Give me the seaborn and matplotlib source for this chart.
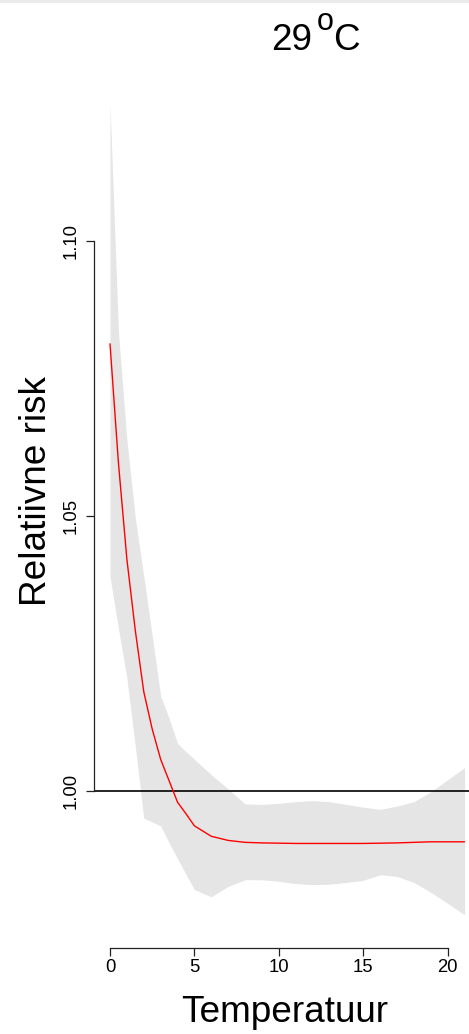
import matplotlib
matplotlib.use("Agg")
import matplotlib.pyplot as plt
from matplotlib.patches import Rectangle
import seaborn as sns

# Exposure-response curve for the 29 °C threshold
temperature = [0, 0.5, 1, 1.5, 2, 2.5, 3, 3.5, 4, 4.5, 5, 6, 7, 8, 9, 10,
               11, 12, 13, 14, 15, 16, 17, 18, 19, 20, 21]
relative_risk = [1.0813, 1.0596, 1.0421, 1.0291, 1.0180, 1.0112, 1.0057,
                 1.0018, 0.9979, 0.9958, 0.9936, 0.9917, 0.99095, 0.9906,
                 0.9905, 0.99045, 0.9904, 0.9904, 0.9904, 0.9904, 0.9904,
                 0.99045, 0.9905, 0.9906, 0.9907, 0.9907, 0.9907]
ci_upper = [1.1250, 1.0835, 1.0638, 1.0496, 1.0390, 1.0282, 1.0172, 1.0132,
            1.0086, 1.0071, 1.0057, 1.0029, 1.0003, 0.9976, 0.9975, 0.9977,
            0.9980, 0.9982, 0.9980, 0.9975, 0.9970, 0.9966, 0.9972, 0.9980,
            0.9998, 1.0020, 1.0042]
ci_lower = [1.0389, 1.0295, 1.0205, 1.0080, 0.9950, 0.9943, 0.9936, 0.9905,
            0.9876, 0.9848, 0.9820, 0.9807, 0.9826, 0.9838, 0.9838, 0.9835,
            0.9831, 0.9829, 0.9830, 0.9833, 0.9837, 0.9847, 0.9844, 0.9833,
            0.9815, 0.9795, 0.9774]

x_ticks = [0, 5, 10, 15, 20]
y_ticks = [1.00, 1.05, 1.10]
y_tick_labels = ["1.00", "1.05", "1.10"]

sns.set_style("ticks")
plt.rcParams["font.family"] = ["Liberation Sans", "DejaVu Sans"]
plt.rcParams["text.color"] = "black"
plt.rcParams["axes.labelcolor"] = "black"
plt.rcParams["xtick.labelcolor"] = "black"
plt.rcParams["ytick.labelcolor"] = "black"

W, H = 469, 1034
fig = plt.figure(figsize=(W / 100, H / 100), dpi=100)
fig.patch.set_facecolor("white")

# plot region in pixels
left_px, right_px, top_px, bottom_px = 94, 469, 67, 948
ax = fig.add_axes([left_px / W, 1 - bottom_px / H,
                   (right_px - left_px) / W, (bottom_px - top_px) / H])
ax.set_facecolor("white")

ax.fill_between(temperature, ci_lower, ci_upper, color="#e5e5e5", lw=0, zorder=1)
ax.axhline(1.0, color="black", lw=1.2, zorder=2)
sns.lineplot(x=temperature, y=relative_risk, color="red", lw=1.0, ax=ax, zorder=3)

ax.set_xlim(-0.9476, 21.261)
ax.set_ylim(0.97138, 1.13165)

for side in ("top", "right"):
    ax.spines[side].set_visible(False)
ax.spines["left"].set_bounds(1.0, 1.1)
ax.spines["bottom"].set_bounds(0, 20)
for side in ("left", "bottom"):
    ax.spines[side].set_linewidth(0.9)
    ax.spines[side].set_color("#222222")

ax.set_xticks(x_ticks)
ax.set_xticklabels([str(t) for t in x_ticks])
ax.set_yticks(y_ticks)
ax.set_yticklabels(y_tick_labels, rotation=90, va="center")
ax.tick_params(axis="both", direction="out", length=5.5, width=0.9,
               color="#222222", labelsize=13.3, labelcolor="black")
ax.tick_params(axis="x", pad=2.2)
ax.tick_params(axis="y", pad=4.5)

ax.set_xlabel("Temperatuur", fontsize=26.6, va="baseline", color="black")
ax.xaxis.set_label_coords((284.2 - left_px) / (right_px - left_px),
                          (bottom_px - 1021.7) / (bottom_px - top_px))
ax.set_ylabel("Relatiivne risk", fontsize=26.6, va="baseline", color="black")
ax.yaxis.set_label_coords((46 - left_px) / (right_px - left_px),
                          (bottom_px - 490.5) / (bottom_px - top_px))

# title: 29 with raised "o" and C
fig.text(271.5 / W, 1 - 50 / H, "29", fontsize=26.6, ha="left", va="baseline",
         color="black")
fig.text(316.5 / W, 1 - 30.3 / H, "o", fontsize=22, ha="left", va="baseline",
         color="black")
fig.text(333 / W, 1 - 50 / H, "C", fontsize=26.6, ha="left", va="baseline",
         color="black")

fig.add_artist(Rectangle((0, 1 - 2.5 / H), 1, 2.5 / H, transform=fig.transFigure,
                         color="#ebebeb", lw=0))

fig.savefig("out.png", dpi=100, facecolor="white")
